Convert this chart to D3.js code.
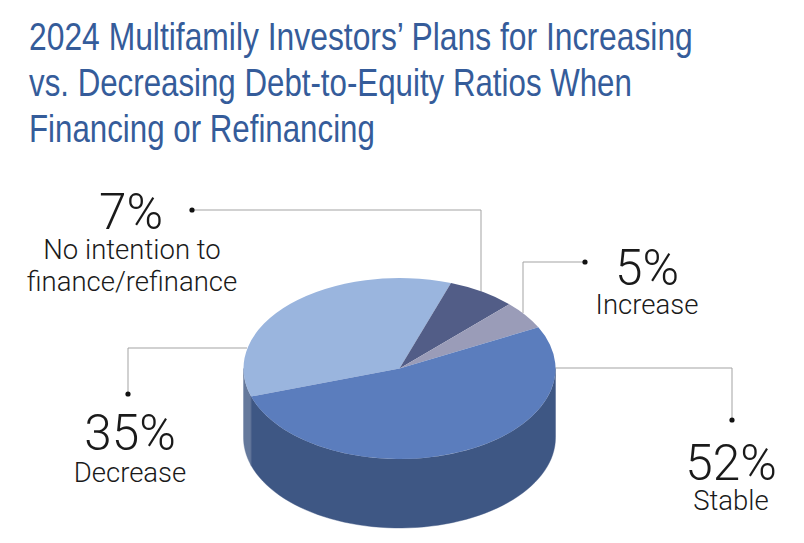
<!DOCTYPE html>
<html>
<head>
<meta charset="utf-8">
<script src="https://cdn.jsdelivr.net/npm/d3@7/dist/d3.min.js"></script>
<style>
html,body{margin:0;padding:0;background:#fff}
svg{display:block}
.title{font-family:"Liberation Sans",sans-serif;font-size:38.5px;fill:#355c9a}
.pct{font-family:Roboto,sans-serif;font-weight:300;font-size:49.5px;fill:#1a1a1a;text-anchor:middle}
.name{font-family:Roboto,sans-serif;font-weight:300;font-size:27.5px;fill:#1a1a1a;text-anchor:middle}
</style>
</head>
<body>
<svg id="chart" width="804" height="543"></svg>
<script>
const titleLines = ["2024 Multifamily Investors\u2019 Plans for Increasing",
  "vs. Decreasing Debt-to-Equity Ratios When",
  "Financing or Refinancing"];
const categories = ["Decrease", "No intention to finance/refinance", "Increase", "Stable"];
const values = [35, 7, 5, 52];
const topColors = ["#9ab5de", "#525d87", "#9a9cb8", "#5b7dbd"];
const wallColors = ["#65799c", "#3a4468", "#6c6e88", "#3e5784"];

// Layout of the tilted disc
const cx = 399.5, cy = 368.5, rx = 156, ry = 90.5, depth = 69;
const startDeg = -108;

// Condensed setting widths for the three title lines
const titleWidths = [664, 603, 346];

// Callout layout: percent text, name lines, and the elbowed leader
const callouts = [
  {pct:[130,450], lines:[["Decrease",130,482]], leader:[[128,394],[128,348],[247,348]]},
  {pct:[131,229], lines:[["No intention to",132,259],["finance/refinance",132,291]], leader:[[192,210],[481,210],[481,297]]},
  {pct:[647,285], lines:[["Increase",647,314]], leader:[[585,262],[523,262],[523,313]]},
  {pct:[731,480], lines:[["Stable",731,510]], leader:[[732,420],[732,368],[555,368]]}
];

const svg = d3.select("#chart");

// Each title line is squashed horizontally to its condensed width
svg.append("g").selectAll("text").data(titleLines).join("text")
  .attr("class", "title")
  .text(d => d)
  .attr("transform", function(d, i) {
    const k = titleWidths[i] / this.getComputedTextLength();
    return `translate(29,${50 + i * 46}) scale(${k},1)`;
  });

const pie = d3.pie().sort(null)
  .startAngle(startDeg * Math.PI / 180)
  .endAngle((startDeg + 360) * Math.PI / 180);
const slices = pie(values);
const arc = d3.arc().innerRadius(0).outerRadius(rx);

// Leaders sit behind the disc
const leader = d3.line();
svg.append("g").selectAll("path").data(callouts).join("path")
  .attr("d", d => leader(d.leader))
  .attr("fill", "none").attr("stroke", "#a3a3a3").attr("stroke-width", 1);

// Front walls: the part of each slice that faces the viewer (90° to 270° clockwise from north)
const wallPath = d3.line();
const rim = (a, dy) => [cx + rx * Math.sin(a), cy - ry * Math.cos(a) + dy];
const wall = svg.append("g");
slices.forEach((s, i) => {
  const norm = [[s.startAngle, s.endAngle], [s.startAngle + 2 * Math.PI, s.endAngle + 2 * Math.PI]];
  norm.forEach(([a0, a1]) => {
    const lo = Math.max(a0, Math.PI / 2), hi = Math.min(a1, 3 * Math.PI / 2);
    if (hi <= lo) return;
    const steps = d3.range(0, 61).map(k => lo + (hi - lo) * k / 60);
    const pts = steps.map(a => rim(a, 0)).concat(steps.slice().reverse().map(a => rim(a, depth)));
    wall.append("path").attr("d", wallPath(pts) + "Z")
      .attr("fill", wallColors[i]).attr("stroke", wallColors[i]).attr("stroke-width", 0.4);
  });
});

// Top face: a flat pie squashed into an ellipse
svg.append("g")
  .attr("transform", `translate(${cx},${cy}) scale(1,${ry / rx})`)
  .selectAll("path").data(slices).join("path")
  .attr("d", arc)
  .attr("fill", (d, i) => topColors[i]);

// Leader end dots
svg.append("g").selectAll("circle").data(callouts).join("circle")
  .attr("cx", d => d.leader[0][0]).attr("cy", d => d.leader[0][1])
  .attr("r", 2.6).attr("fill", "#111");

const labels = svg.append("g");
callouts.forEach((c, i) => {
  labels.append("text").attr("class", "pct")
    .attr("x", c.pct[0]).attr("y", c.pct[1]).text(values[i] + "%");
  c.lines.forEach(l => labels.append("text").attr("class", "name")
    .attr("x", l[1]).attr("y", l[2]).text(l[0]));
});
</script>
</body>
</html>
